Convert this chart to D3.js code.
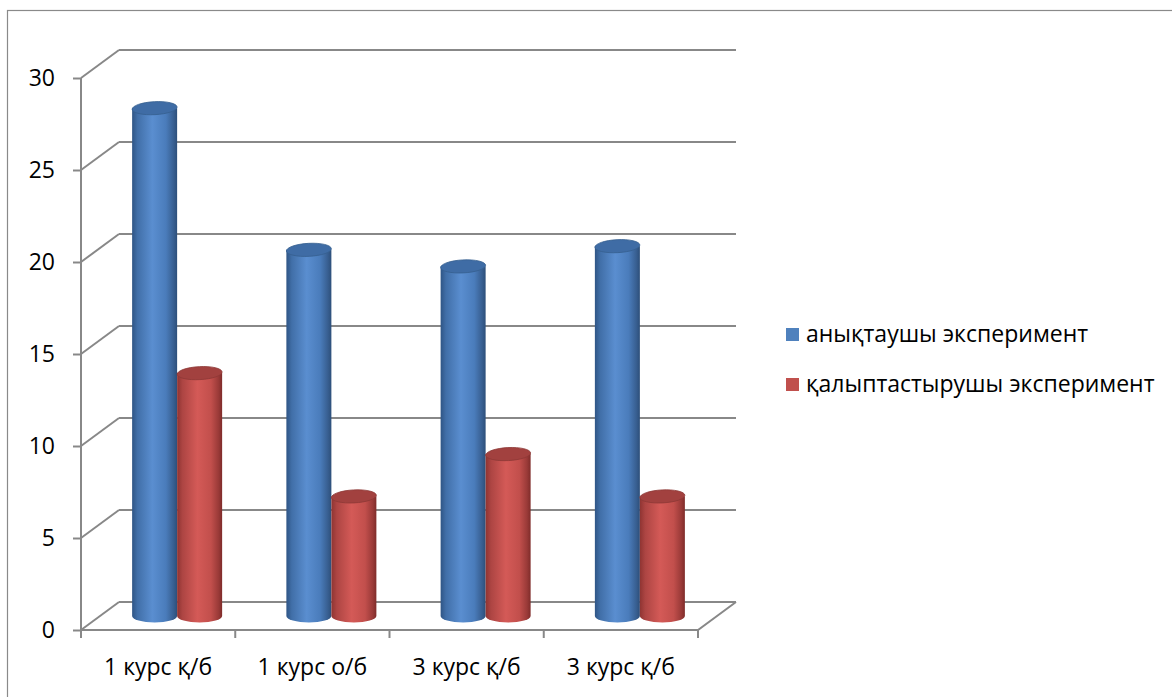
<!DOCTYPE html>
<html>
<head>
<meta charset="utf-8">
<script src="https://cdn.jsdelivr.net/npm/d3@7"></script>
<style>
  html, body { margin: 0; padding: 0; background: #fff; }
  svg { display: block; }
  text { font-family: "Open Sans", "Noto Sans", sans-serif; fill: #000; }
</style>
</head>
<body>
<svg id="chart" width="1172" height="697"></svg>
<script>
const categories = ["1 курс қ/б", "1 курс о/б", "3 курс қ/б", "3 курс қ/б"];
const seriesNames = ["анықтаушы эксперимент", "қалыптастырушы эксперимент"];
const seriesA = [27.6, 19.9, 19.0, 20.1];
const seriesB = [13.2, 6.5, 8.8, 6.5];
const yTicks = [0, 5, 10, 15, 20, 25, 30];

const svg = d3.select("#chart");

// outer frame
svg.append("rect").attr("x", 7.5).attr("y", 10.5).attr("width", 1200).attr("height", 720)
  .attr("fill", "#fff").attr("stroke", "#8a8a8a").attr("stroke-width", 1.2);

// front plane scales
const x = d3.scaleBand().domain(d3.range(categories.length)).range([81, 698]);
const y = d3.scaleLinear().domain([0, 30]).range([630, 78]);
const DX = 38, DY = -28; // depth offset (front -> back)

const gridColor = "#888888";
const grid = svg.append("g");

// back wall gridlines + side wall diagonals
yTicks.forEach(t => {
  const yy = y(t);
  grid.append("line").attr("x1", 81 + DX).attr("x2", 698 + DX)
    .attr("y1", yy + DY).attr("y2", yy + DY)
    .attr("stroke", gridColor).attr("stroke-width", 2);
  grid.append("line").attr("x1", 81).attr("y1", yy).attr("x2", 81 + DX).attr("y2", yy + DY)
    .attr("stroke", gridColor).attr("stroke-width", 2);
});
// floor outline
grid.append("path")
  .attr("d", `M81,${y(0)} L698,${y(0)} L${698 + DX},${y(0) + DY}`)
  .attr("fill", "none").attr("stroke", gridColor).attr("stroke-width", 2);

// value axis (front)
const yAxis = d3.axisLeft(y).tickValues(yTicks).tickSize(8).tickPadding(18).tickFormat(d3.format("d"));
const ya = svg.append("g").attr("transform", "translate(81,0)").call(yAxis);
ya.select(".domain").attr("stroke", gridColor).attr("stroke-width", 2).attr("d", `M0,${y(30)}V${y(0)}`);
ya.selectAll(".tick line").attr("stroke", gridColor).attr("stroke-width", 2);
ya.selectAll(".tick text").style("font-size", "23px").attr("fill", "#000")
  .style("font-family", '"Open Sans", sans-serif');

// category ticks and labels
const xa = svg.append("g");
d3.range(categories.length + 1).forEach(i => {
  const xx = i < categories.length ? x(i) : x.range()[1];
  xa.append("line").attr("x1", xx).attr("x2", xx).attr("y1", y(0)).attr("y2", y(0) + 8)
    .attr("stroke", gridColor).attr("stroke-width", 2);
});
xa.selectAll("text.cat").data(categories).join("text").attr("class", "cat")
  .attr("x", (d, i) => x(i) + x.bandwidth() / 2)
  .attr("y", 675)
  .attr("text-anchor", "middle")
  .style("font-size", "23px")
  .text(d => d);

// gradients
const defs = svg.append("defs");
function cylGrad(id, stops) {
  const g = defs.append("linearGradient").attr("id", id).attr("x1", "0").attr("x2", "1").attr("y1", "0").attr("y2", "0");
  stops.forEach(([o, c]) => g.append("stop").attr("offset", o).attr("stop-color", c));
}
cylGrad("gA", [[0, "#2f5585"], [0.12, "#416fa8"], [0.45, "#5a8ed0"], [0.75, "#4a7cbb"], [0.92, "#385f91"], [1, "#2d4f7a"]]);
cylGrad("gB", [[0, "#8f3432"], [0.12, "#ad4543"], [0.45, "#d45a57"], [0.75, "#c24f4c"], [0.92, "#9a3a38"], [1, "#7f2c2a"]]);
const topColor = ["#3f6ca5", "#a2413f"];
const topEdge = ["#36608f", "#8d3836"];

// bars (cylinders) at mid depth
const depth = 0.5;
const r = 22.5, ry = 6.5;
const series = [seriesA, seriesB];
const bars = svg.append("g");
categories.forEach((c, i) => {
  series.forEach((vals, s) => {
    const v = vals[i];
    const cx = x(i) + x.bandwidth() / 2 + (s === 0 ? -r : r) + DX * depth;
    const yb = y(0) + DY * depth;
    const yt = y(v) + DY * depth;
    const g = bars.append("g");
    g.append("path")
      .attr("d", `M${cx - r},${yt} L${cx - r},${yb} A${r},${ry} 0 0 0 ${cx + r},${yb} L${cx + r},${yt} Z`)
      .attr("fill", `url(#${s === 0 ? "gA" : "gB"})`);
    g.append("ellipse").attr("cx", cx).attr("cy", yt).attr("rx", r).attr("ry", ry)
      .attr("fill", topColor[s]).attr("stroke", topEdge[s]).attr("stroke-width", 0.8)
      .attr("transform", `rotate(-3,${cx},${yt})`);
  });
});

// legend
const colors = ["#4f81bd", "#c0504d"];
const leg = svg.append("g");
seriesNames.forEach((n, i) => {
  const ly = 334 + i * 50;
  leg.append("rect").attr("x", 786).attr("y", ly - 6).attr("width", 13).attr("height", 13).attr("fill", colors[i]);
  leg.append("text").attr("x", 806).attr("y", ly + 8).style("font-size", "23px").text(n);
});
</script>
</body>
</html>
